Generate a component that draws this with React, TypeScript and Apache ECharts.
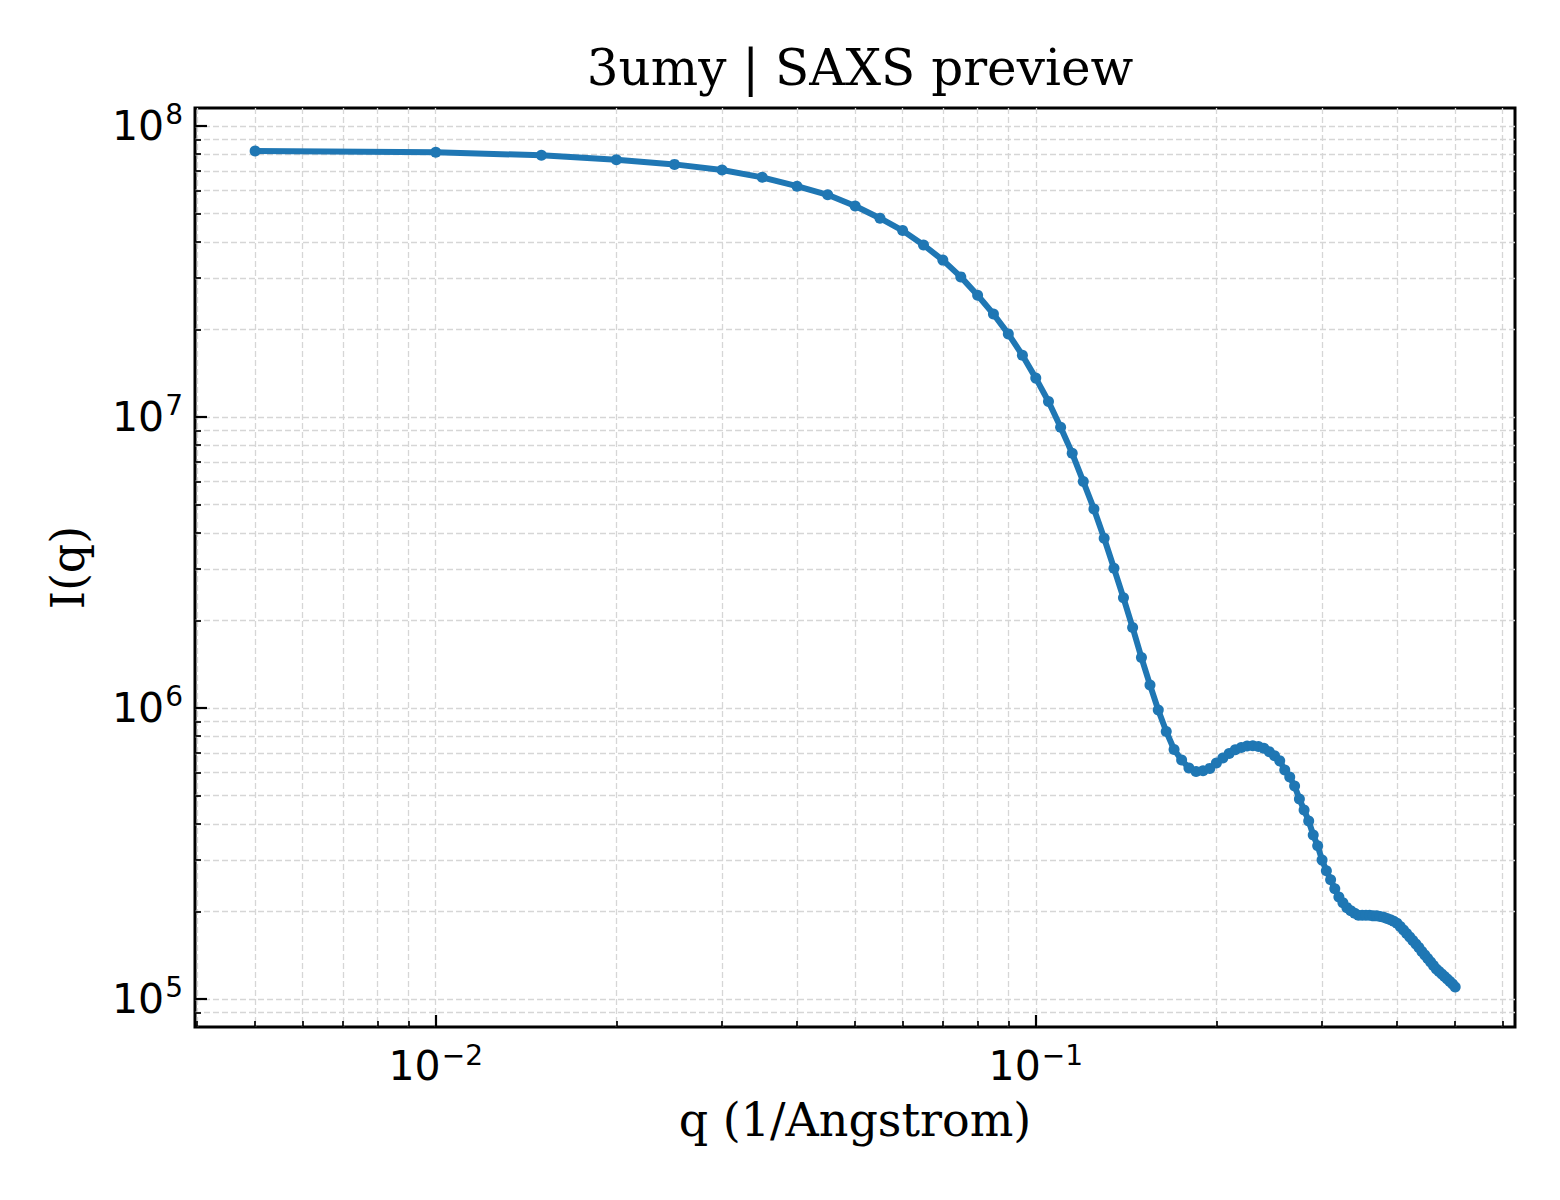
import * as echarts from "echarts";
import { useEffect, useRef } from "react";

// q in 1/Angstrom
const qValues = [
	0.005, 0.01, 0.015, 0.02, 0.025, 0.03, 0.035, 0.04, 0.045, 0.05,
	0.055, 0.06, 0.065, 0.07, 0.075, 0.08, 0.085, 0.09, 0.095, 0.1,
	0.105, 0.11, 0.115, 0.12, 0.125, 0.13, 0.135, 0.14, 0.145, 0.15,
	0.155, 0.16, 0.165, 0.17, 0.175, 0.18, 0.185, 0.19, 0.195, 0.2,
	0.205, 0.21, 0.215, 0.22, 0.225, 0.23, 0.235, 0.24, 0.245, 0.25,
	0.255, 0.26, 0.265, 0.27, 0.275, 0.28, 0.285, 0.29, 0.295, 0.3,
	0.305, 0.31, 0.315, 0.32, 0.325, 0.33, 0.335, 0.34, 0.345, 0.35,
	0.355, 0.36, 0.365, 0.37, 0.375, 0.38, 0.385, 0.39, 0.395, 0.4,
	0.405, 0.41, 0.415, 0.42, 0.425, 0.43, 0.435, 0.44, 0.445, 0.45,
	0.455, 0.46, 0.465, 0.47, 0.475, 0.48, 0.485, 0.49, 0.495, 0.5,
];

// I(q)
const intensity = [
	8.2e7, 8.12e7, 7.93e7, 7.66e7, 7.38e7, 7.06e7, 6.66e7, 6.21e7, 5.8e7, 5.31e7,
	4.82e7, 4.37e7, 3.9e7, 3.46e7, 3.03e7, 2.62e7, 2.26e7, 1.93e7, 1.63e7, 1.36e7,
	1.13e7, 9.22e6, 7.5e6, 6.0e6, 4.83e6, 3.83e6, 3.02e6, 2.39e6, 1.89e6, 1.49e6,
	1.2e6, 9.84e5, 8.3e5, 7.2e5, 6.63e5, 6.22e5, 6.05e5, 6.08e5, 6.2e5, 6.47e5,
	6.73e5, 6.98e5, 7.18e5, 7.32e5, 7.4e5, 7.42e5, 7.37e5, 7.27e5, 7.07e5, 6.85e5,
	6.58e5, 6.12e5, 5.79e5, 5.39e5, 4.87e5, 4.46e5, 4.09e5, 3.66e5, 3.36e5, 3.0e5,
	2.76e5, 2.57e5, 2.39e5, 2.24e5, 2.14e5, 2.06e5, 2.01e5, 1.97e5, 1.94e5, 1.94e5,
	1.94e5, 1.94e5, 1.93e5, 1.93e5, 1.92e5, 1.91e5, 1.89e5, 1.87e5, 1.85e5, 1.82e5,
	1.775e5, 1.726e5, 1.68e5, 1.633e5, 1.588e5, 1.545e5, 1.503e5, 1.456e5, 1.417e5, 1.377e5,
	1.34e5, 1.303e5, 1.268e5, 1.243e5, 1.219e5, 1.195e5, 1.171e5, 1.148e5, 1.126e5, 1.099e5,
];

const xMajorTicks = [0.01, 0.1];
const xMinorTicks = [
	0.004, 0.005, 0.006, 0.007, 0.008, 0.009,
	0.02, 0.03, 0.04, 0.05, 0.06, 0.07, 0.08, 0.09,
	0.2, 0.3, 0.4, 0.5, 0.6,
];
const yMajorTicks = [1e5, 1e6, 1e7, 1e8];
const yMinorTicks = [
	9e4,
	2e5, 3e5, 4e5, 5e5, 6e5, 7e5, 8e5, 9e5,
	2e6, 3e6, 4e6, 5e6, 6e6, 7e6, 8e6, 9e6,
	2e7, 3e7, 4e7, 5e7, 6e7, 7e7, 8e7, 9e7,
];

const FONT = "DejaVu Serif";
const MATH_FONT = "DejaVu Sans";
const X_MIN = 0.00397;
const X_MAX = 0.629;
const Y_MIN = 8.01e4;
const Y_MAX = 1.153e8;

const gridLine = {
	show: true,
	lineStyle: { color: "#d6d6d6", width: 1.3, type: [6, 3] as number[] },
};

const powerLabel = (value: number) => {
	const exp = Math.round(Math.log10(value));
	const e = exp < 0 ? "\u2212" + -exp : String(exp);
	return `{m|10}{e|${e}}`;
};

const labelRich = {
	m: { fontFamily: MATH_FONT, fontSize: 41, color: "#000" },
	e: {
		fontFamily: MATH_FONT,
		fontSize: 28,
		color: "#000",
		verticalAlign: "top" as const,
		padding: [0, 0, 22, 1],
	},
};

function SaxsChart() {
	const ref = useRef<HTMLDivElement>(null);
	useEffect(() => {
		document.body.style.margin = "0";
		if (!ref.current) return;
		const chart = echarts.init(ref.current, null, { renderer: "svg" });
		const majorAxis = (ticks: number[], isX: boolean) => ({
			type: "log" as const,
			min: isX ? X_MIN : Y_MIN,
			max: isX ? X_MAX : Y_MAX,
			position: isX ? "bottom" : "left",
			axisLine: { show: false },
			axisTick: {
				show: true,
				inside: true,
				length: 12,
				customValues: ticks,
				lineStyle: { color: "#000", width: 2.2 },
			},
			axisLabel: {
				show: true,
				customValues: ticks,
				margin: isX ? 14 : 12,
				formatter: powerLabel,
				rich: labelRich,
			},
			splitLine: gridLine,
		});
		const minorAxis = (ticks: number[], isX: boolean) => ({
			type: "log" as const,
			min: isX ? X_MIN : Y_MIN,
			max: isX ? X_MAX : Y_MAX,
			position: isX ? "bottom" : "left",
			axisLine: { show: false },
			axisTick: {
				show: true,
				inside: true,
				length: 6,
				customValues: ticks,
				lineStyle: { color: "#000", width: 1.7 },
			},
			axisLabel: { show: false },
			splitLine: gridLine,
		});
		chart.setOption({
			animation: false,
			backgroundColor: "#fff",
			title: {
				text: "3umy | SAXS preview",
				left: 855,
				top: 38,
				textAlign: "center",
				textStyle: {
					fontFamily: FONT,
					fontSize: 50,
					fontWeight: "normal",
					color: "#000",
				},
			},
			grid: {
				left: 195,
				top: 108,
				width: 1320,
				height: 919,
				show: true,
				borderColor: "#000",
				borderWidth: 3,
				backgroundColor: "transparent",
				containLabel: false,
			},
			xAxis: [
				{
					...majorAxis(xMajorTicks, true),
					name: "q (1/Angstrom)",
					nameLocation: "middle",
					nameGap: 70,
					nameTextStyle: { fontFamily: FONT, fontSize: 46, color: "#000" },
				},
				minorAxis(xMinorTicks, true),
			],
			yAxis: [
				{
					...majorAxis(yMajorTicks, false),
					name: "I(q)",
					nameLocation: "middle",
					nameGap: 104,
					nameTextStyle: { fontFamily: FONT, fontSize: 46, color: "#000" },
				},
				minorAxis(yMinorTicks, false),
			],
			series: [
				{
					type: "line",
					xAxisIndex: 0,
					yAxisIndex: 0,
					data: qValues.map((q, i) => [q, intensity[i]]),
					symbol: "circle",
					symbolSize: 11,
					showSymbol: true,
					lineStyle: { color: "#1f77b4", width: 6 },
					itemStyle: { color: "#1f77b4" },
					z: 5,
				},
			],
		});
		return () => chart.dispose();
	}, []);
	return <div ref={ref} style={{ width: 1560, height: 1200 }} />;
}

export default function App() {
	return <SaxsChart />;
}
